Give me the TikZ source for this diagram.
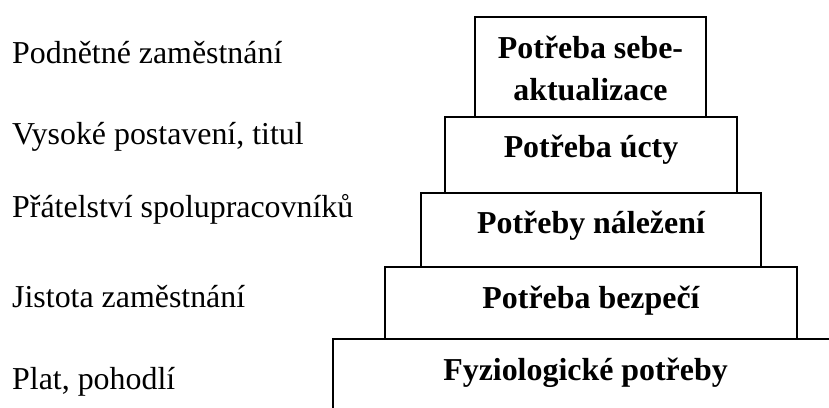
\documentclass[tikz,border=0pt]{standalone}
\usepackage{fontspec}
\setmainfont{Liberation Serif}
\begin{document}
\begin{tikzpicture}[x=1pt,y=-1pt,
  level/.style={draw=black,line width=1.8pt,fill=white,inner sep=0pt,outer sep=0pt},
  lbl/.style={anchor=base west,inner sep=0pt,font=\fontsize{31.9}{38}\selectfont},
  need/.style={anchor=base,inner sep=0pt,font=\fontsize{31.9}{38}\selectfont\bfseries,align=center}]
\useasboundingbox (0,0) rectangle (829,407);
\clip (0,0) rectangle (829,407);
% pyramid levels (bottom first)
\node[level,minimum width=505pt,minimum height=100pt] (l5) at (585.5,389) {};
\node[level,minimum width=412pt,minimum height=72pt] (l4) at (591,303) {};
\node[level,minimum width=340pt,minimum height=74pt] (l3) at (591,230) {};
\node[level,minimum width=292pt,minimum height=76pt] (l2) at (591,155) {};
\node[level,minimum width=231pt,minimum height=100pt] (l1) at (590.5,67) {};
% texts in levels
\node[need] (t1a) at (590.5,58) {Potřeba sebe-};
\node[need] (t1b) at (590.5,100) {aktualizace};
\node[need] (t2) at (591,157) {Potřeba úcty};
\node[need] (t3) at (591,233) {Potřeby náležení};
\node[need] (t4) at (591,308) {Potřeba bezpečí};
\node[need] (t5) at (585.5,380) {Fyziologické potřeby};
% left labels
\node[lbl] (a1) at (12,63) {Podnětné zaměstnání};
\node[lbl] (a2) at (12,144) {Vysoké postavení, titul};
\node[lbl] (a3) at (12,217) {Přátelství spolupracovníků};
\node[lbl] (a4) at (12,307) {Jistota zaměstnání};
\node[lbl] (a5) at (12,389) {Plat, pohodlí};
\end{tikzpicture}
\end{document}
